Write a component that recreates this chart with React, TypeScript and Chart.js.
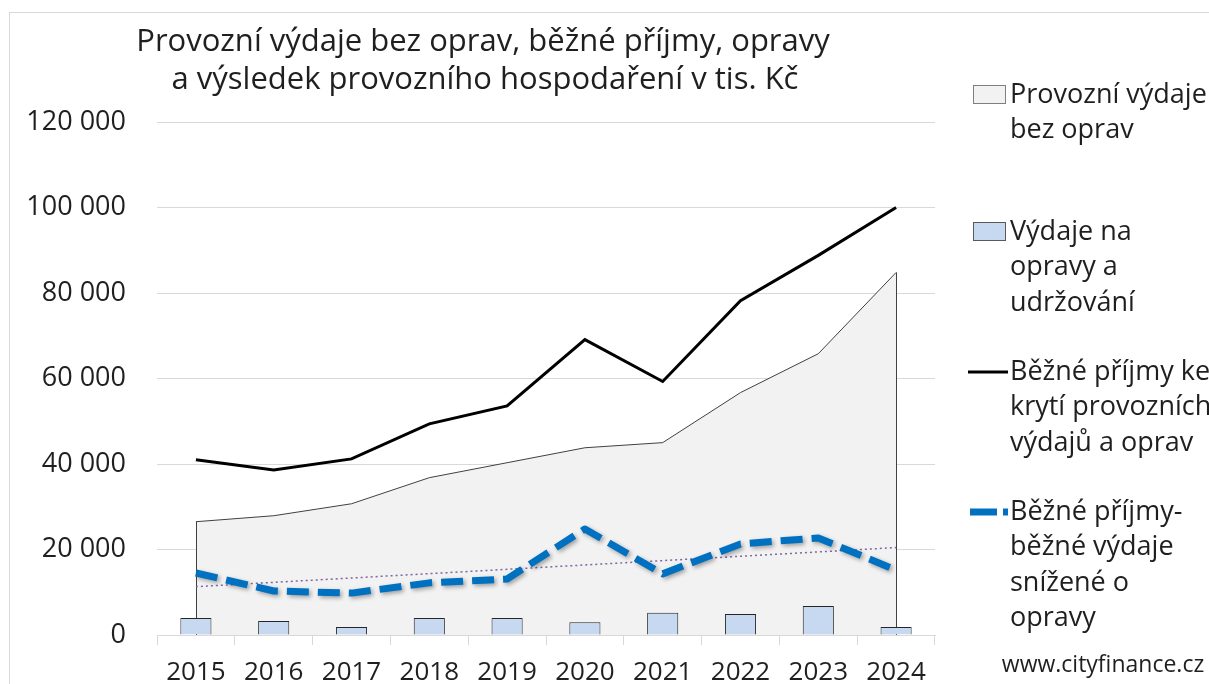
import React, { useEffect, useRef } from 'react';
import { Chart, registerables } from 'chart.js';

Chart.register(...registerables);

const years = ['2015', '2016', '2017', '2018', '2019', '2020', '2021', '2022', '2023', '2024'];
const operatingExpenses = [26500, 27900, 30700, 36800, 40300, 43800, 45000, 56700, 65800, 84800];
const repairs = [4000, 3300, 1900, 4000, 4000, 3000, 5200, 4900, 6800, 1900];
const currentRevenue = [41000, 38600, 41200, 49400, 53600, 69100, 59300, 78200, 88800, 100000];
const operatingResult = [14500, 10300, 9800, 12200, 13100, 24800, 14300, 21300, 22700, 15200];
const resultTrend = [11300, null, null, null, null, null, null, null, null, 20450];

const yMin = 0;
const yMax = 120000;
const yStep = 20000;

const titleLines = [
  'Provozní výdaje bez oprav, běžné příjmy, opravy',
  'a výsledek provozního hospodaření v tis. Kč',
];
const legendOperating = ['Provozní výdaje', 'bez oprav'];
const legendRepairs = ['Výdaje na', 'opravy a', 'udržování'];
const legendRevenue = ['Běžné příjmy ke', 'krytí provozních', 'výdajů a oprav'];
const legendResult = ['Běžné příjmy-', 'běžné výdaje', 'snížené o', 'opravy'];
const watermark = 'www.cityfinance.cz';

const FONT = '"Open Sans", "DejaVu Sans", sans-serif';
const TEXT = '#1f1f1f';
const AREA_FILL = '#f2f2f2';
const AREA_LINE = '#404040';
const BAR_FILL = '#c6d9f1';
const BLUE = '#0070c0';
const GRID = '#d9d9d9';

const fmt = (v: number) => String(v).replace(/\B(?=(\d{3})+(?!\d))/g, ' ');

const decorPlugin = {
  id: 'decor',
  beforeDatasetDraw(chart: any, args: any) {
    if (args.index === 3) {
      const ctx = chart.ctx;
      ctx.save();
      ctx.shadowColor = 'rgba(0,0,0,0.35)';
      ctx.shadowBlur = 4;
      ctx.shadowOffsetX = 2;
      ctx.shadowOffsetY = 2;
    }
  },
  afterDatasetDraw(chart: any, args: any) {
    const ctx = chart.ctx;
    if (args.index === 3) {
      ctx.restore();
    }
    if (args.index === 0) {
      const pts = chart.getDatasetMeta(0).data;
      const base = chart.scales.y.getPixelForValue(0);
      ctx.save();
      ctx.strokeStyle = AREA_LINE;
      ctx.lineWidth = 1;
      [pts[0], pts[pts.length - 1]].forEach((p: any) => {
        const x = Math.round(p.x) + 0.5;
        ctx.beginPath();
        ctx.moveTo(x, p.y);
        ctx.lineTo(x, base);
        ctx.stroke();
      });
      ctx.restore();
    }
  },
  afterDraw(chart: any) {
    const ctx = chart.ctx;
    ctx.save();
    // outer border
    ctx.strokeStyle = GRID;
    ctx.lineWidth = 1;
    ctx.strokeRect(9.5, 12.5, 1400, 1000);

    // title
    ctx.fillStyle = TEXT;
    ctx.textAlign = 'center';
    ctx.textBaseline = 'middle';
    ctx.font = `31px ${FONT}`;
    ctx.fillText(titleLines[0], 483, 42);
    ctx.fillText(titleLines[1], 485, 80);

    // legend
    const lx = 1010;
    const lh = 35.5;
    ctx.textAlign = 'left';
    ctx.font = `27px ${FONT}`;
    const drawLines = (lines: string[], y0: number) => {
      lines.forEach((t, i) => ctx.fillText(t, lx, y0 + i * lh));
    };
    // area symbol
    ctx.fillStyle = AREA_FILL;
    ctx.fillRect(973.5, 85.5, 32, 18);
    ctx.strokeStyle = '#7f7f7f';
    ctx.strokeRect(973.5, 85.5, 32, 18);
    ctx.fillStyle = TEXT;
    drawLines(legendOperating, 95);
    // bar symbol
    ctx.fillStyle = BAR_FILL;
    ctx.fillRect(973.5, 222.5, 32, 18);
    ctx.strokeStyle = '#595959';
    ctx.strokeRect(973.5, 222.5, 32, 18);
    ctx.fillStyle = TEXT;
    drawLines(legendRepairs, 232);
    // black line symbol
    ctx.strokeStyle = '#000000';
    ctx.lineWidth = 3;
    ctx.beginPath();
    ctx.moveTo(968, 372);
    ctx.lineTo(1008, 372);
    ctx.stroke();
    ctx.fillStyle = TEXT;
    drawLines(legendRevenue, 372);
    // dashed symbol
    ctx.strokeStyle = BLUE;
    ctx.lineWidth = 7;
    ctx.setLineDash([27, 6]);
    ctx.beginPath();
    ctx.moveTo(970, 512);
    ctx.lineTo(1008, 512);
    ctx.stroke();
    ctx.setLineDash([]);
    ctx.fillStyle = TEXT;
    drawLines(legendResult, 512);

    // watermark
    ctx.font = `23px ${FONT}`;
    ctx.textAlign = 'center';
    ctx.fillText(watermark, 1103, 665);
    ctx.restore();
  },
};

export default function App() {
  const ref = useRef<HTMLCanvasElement | null>(null);

  useEffect(() => {
    if (!ref.current) return;
    const chart = new Chart(ref.current, {
      type: 'bar',
      data: {
        labels: years,
        datasets: [
          {
            type: 'line',
            label: 'Provozní výdaje bez oprav',
            data: operatingExpenses,
            backgroundColor: AREA_FILL,
            borderColor: AREA_LINE,
            borderWidth: 1,
            fill: 'origin',
            pointRadius: 0,
            tension: 0,
            order: 4,
          },
          {
            type: 'bar',
            label: 'Výdaje na opravy a udržování',
            data: repairs,
            backgroundColor: BAR_FILL,
            borderColor: '#262626',
            borderWidth: 1,
            barPercentage: 0.4,
            categoryPercentage: 1,
            order: 3,
          },
          {
            type: 'line',
            label: 'Běžné příjmy ke krytí provozních výdajů a oprav',
            data: currentRevenue,
            borderColor: '#000000',
            borderWidth: 3,
            fill: false,
            pointRadius: 0,
            tension: 0,
            order: 1,
          },
          {
            type: 'line',
            label: 'Běžné příjmy-běžné výdaje snížené o opravy',
            data: operatingResult,
            borderColor: BLUE,
            borderWidth: 7,
            borderDash: [22, 9],
            borderJoinStyle: 'round',
            fill: false,
            pointRadius: 0,
            tension: 0,
            order: 0,
          },
          {
            type: 'line',
            label: 'Lineární trend',
            data: resultTrend,
            borderColor: '#8064a2',
            borderWidth: 1.5,
            borderDash: [2, 3],
            spanGaps: true,
            fill: false,
            pointRadius: 0,
            tension: 0,
            order: 2,
          },
        ],
      },
      options: {
        responsive: false,
        animation: false,
        layout: { padding: { top: 122, right: 274, left: 0, bottom: 0 } },
        plugins: {
          legend: { display: false },
          title: { display: false },
          tooltip: { enabled: false },
        },
        scales: {
          x: {
            offset: true,
            grid: {
              offset: true,
              drawOnChartArea: false,
              drawTicks: true,
              tickLength: 10,
              color: GRID,
            },
            border: { color: GRID },
            ticks: {
              color: TEXT,
              font: { family: FONT, size: 26 },
              padding: 12,
              maxRotation: 0,
            },
            afterFit: (s: any) => {
              s.height = 49;
            },
          },
          y: {
            min: yMin,
            max: yMax,
            grid: { color: GRID, drawTicks: false },
            border: { display: false },
            ticks: {
              stepSize: yStep,
              color: TEXT,
              font: { family: FONT, size: 27 },
              padding: 31,
              callback: (v: any) => fmt(Number(v)),
            },
            afterFit: (s: any) => {
              s.width = 157;
            },
          },
        },
      },
      plugins: [decorPlugin],
    } as any);
    return () => chart.destroy();
  }, []);

  return (
    <div style={{ position: 'absolute', left: 0, top: 0, width: 1209, height: 684, background: '#ffffff' }}>
      <canvas ref={ref} width={1209} height={684} style={{ display: 'block' }} />
    </div>
  );
}
